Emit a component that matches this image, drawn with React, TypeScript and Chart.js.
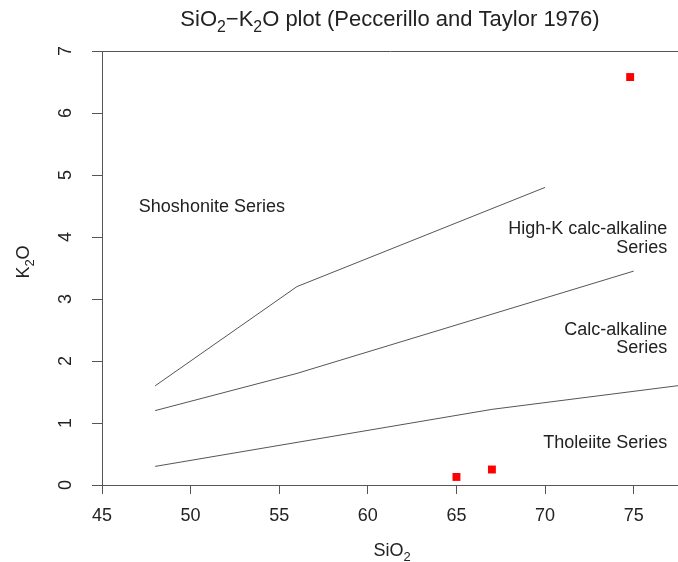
import React, { useEffect, useRef } from "react";
import { Chart, registerables } from "chart.js";

Chart.register(...registerables);

// ---------- data ----------
const xTicks = [45, 50, 55, 60, 65, 70, 75];
const yTicks = [0, 1, 2, 3, 4, 5, 6, 7];

// boundary lines (Peccerillo & Taylor 1976)
const shoshoniteX = [48, 56, 70];
const shoshoniteY = [1.6, 3.2, 4.8];
const highKX = [48, 56, 75];
const highKY = [1.2, 1.8, 3.45];
const calcAlkX = [48, 67, 78];
const calcAlkY = [0.3, 1.22, 1.62];

// samples
const sampleSiO2 = [65, 67, 74.8];
const sampleK2O = [0.13, 0.25, 6.58];

// field labels
const fieldText = [
  ["Shoshonite Series"],
  ["High-K calc-alkaline", "Series"],
  ["Calc-alkaline", "Series"],
  ["Tholeiite Series"],
];
const fieldX = [51.2, 76.9, 76.9, 76.9];
const fieldY = [4.5, 4.0, 2.38, 0.7];
const fieldAlign = ["center", "right", "right", "right"];

const FONT = '"Liberation Sans", Arial, sans-serif';
const TEXT = "#222";
const LINE = "#555";

type Part = { t: string; sub?: boolean };

function drawRich(
  ctx: CanvasRenderingContext2D,
  parts: Part[],
  x: number,
  y: number,
  size: number,
  align: "left" | "center" | "right"
) {
  const subSize = size * 0.72;
  let total = 0;
  const widths = parts.map((p) => {
    ctx.font = `${p.sub ? subSize : size}px ${FONT}`;
    const w = ctx.measureText(p.t).width;
    total += w;
    return w;
  });
  let cx = align === "center" ? x - total / 2 : align === "right" ? x - total : x;
  ctx.textAlign = "left";
  ctx.textBaseline = "alphabetic";
  parts.forEach((p, i) => {
    ctx.font = `${p.sub ? subSize : size}px ${FONT}`;
    ctx.fillText(p.t, cx, p.sub ? y + size * 0.28 : y);
    cx += widths[i];
  });
}

const textPlugin = {
  id: "texts",
  afterDraw(chart: any) {
    const ctx: CanvasRenderingContext2D = chart.ctx;
    const xs = chart.scales.x;
    const ys = chart.scales.y;
    const area = chart.chartArea;
    const midX = (area.left + area.right) / 2;
    const midY = (area.top + area.bottom) / 2;
    ctx.save();
    ctx.fillStyle = TEXT;

    // main title
    drawRich(
      ctx,
      [
        { t: "SiO" },
        { t: "2", sub: true },
        { t: "\u2212K" },
        { t: "2", sub: true },
        { t: "O plot (Peccerillo and Taylor 1976)" },
      ],
      midX,
      26,
      22,
      "center"
    );

    // x axis title
    drawRich(ctx, [{ t: "SiO" }, { t: "2", sub: true }], midX + 2, 556, 18, "center");

    // y axis title (rotated)
    ctx.save();
    ctx.translate(29, midY - 6);
    ctx.rotate(-Math.PI / 2);
    drawRich(ctx, [{ t: "K" }, { t: "2", sub: true }, { t: "O" }], 0, 0, 18, "center");
    ctx.restore();

    // y tick labels (rotated, R style)
    ctx.font = `18px ${FONT}`;
    yTicks.forEach((v) => {
      const py = ys.getPixelForValue(v);
      ctx.save();
      ctx.translate(71, py);
      ctx.rotate(-Math.PI / 2);
      ctx.textAlign = "center";
      ctx.textBaseline = "alphabetic";
      ctx.fillText(String(v), 0, 0);
      ctx.restore();
    });

    // field labels
    const size = 18;
    const lh = 18.7;
    const cap = size * 0.716;
    fieldText.forEach((lines, i) => {
      const px = xs.getPixelForValue(fieldX[i]);
      const pcy = ys.getPixelForValue(fieldY[i]);
      lines.forEach((ln, j) => {
        const by = pcy + (j - (lines.length - 1) / 2) * lh + cap / 2;
        drawRich(ctx, [{ t: ln }], px, by, size, fieldAlign[i] as any);
      });
    });
    ctx.restore();
  },
};

function toPts(xsArr: number[], ysArr: number[]) {
  return xsArr.map((x, i) => ({ x, y: ysArr[i] }));
}

export default function App() {
  const ref = useRef<HTMLCanvasElement>(null);

  useEffect(() => {
    if (!ref.current) return;
    const lineDs = (xa: number[], ya: number[]) => ({
      data: toPts(xa, ya),
      showLine: true,
      borderColor: LINE,
      borderWidth: 1,
      pointRadius: 0,
      pointHoverRadius: 0,
      fill: false,
    });
    const chart = new Chart(ref.current, {
      type: "scatter",
      data: {
        datasets: [
          lineDs(shoshoniteX, shoshoniteY),
          lineDs(highKX, highKY),
          lineDs(calcAlkX, calcAlkY),
          {
            data: toPts(sampleSiO2, sampleK2O),
            pointStyle: "rect",
            pointRadius: 5.6,
            backgroundColor: "#ff0000",
            borderWidth: 0,
            showLine: false,
          } as any,
        ],
      },
      options: {
        responsive: false,
        animation: false,
        layout: { autoPadding: false, padding: { top: 51, left: 0, right: 0, bottom: 0 } },
        plugins: {
          legend: { display: false },
          tooltip: { enabled: false },
          title: { display: false },
        },
        scales: {
          x: {
            type: "linear",
            min: 45,
            max: 77.5,
            afterBuildTicks: (s: any) => {
              s.ticks = xTicks.map((v) => ({ value: v }));
            },
            afterFit: (s: any) => {
              s.height = 77;
              s.paddingLeft = 0;
              s.paddingRight = 0;
            },
            border: { display: true, color: LINE, width: 1 },
            grid: {
              drawOnChartArea: false,
              drawTicks: true,
              tickLength: 9,
              color: LINE,
              tickColor: LINE,
            },
            ticks: {
              color: TEXT,
              font: { family: FONT, size: 18 },
              padding: 11,
              maxRotation: 0,
              autoSkip: false,
              callback: (v: any) => String(v),
            },
          },
          y: {
            type: "linear",
            min: 0,
            max: 7,
            afterBuildTicks: (s: any) => {
              s.ticks = yTicks.map((v) => ({ value: v }));
            },
            afterFit: (s: any) => {
              s.width = 102;
              s.paddingTop = 0;
              s.paddingBottom = 0;
            },
            border: { display: true, color: LINE, width: 1 },
            grid: {
              drawOnChartArea: true,
              drawTicks: true,
              tickLength: 10,
              color: (c: any) =>
                c.tick && (c.tick.value === 0 || c.tick.value === 7) ? LINE : "rgba(0,0,0,0)",
              tickColor: LINE,
            },
            ticks: { display: false },
          },
        },
      },
      plugins: [textPlugin],
    });
    return () => chart.destroy();
  }, []);

  return (
    <div style={{ position: "fixed", left: 0, top: 0, width: 678, height: 562, background: "#fff" }}>
      <canvas ref={ref} width={678} height={562} style={{ display: "block" }} />
    </div>
  );
}
